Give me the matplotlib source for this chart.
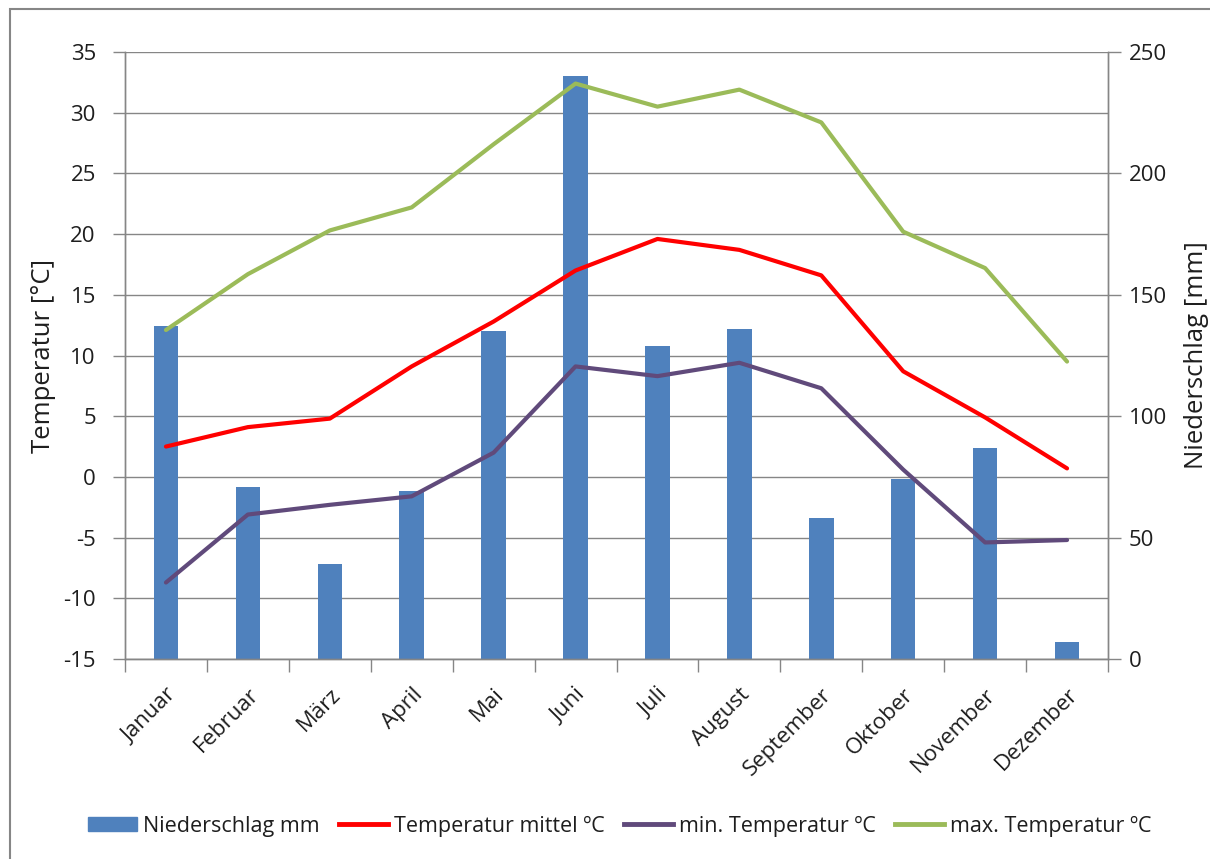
import numpy as np
import matplotlib
matplotlib.use("Agg")
import matplotlib.pyplot as plt
from matplotlib.patches import Rectangle, Patch
from matplotlib.lines import Line2D
from matplotlib.ticker import MultipleLocator

# Klimadaten
monate = ["Januar", "Februar", "März", "April", "Mai", "Juni", "Juli",
          "August", "September", "Oktober", "November", "Dezember"]
niederschlag = [137, 71, 39, 69, 135, 240, 129, 136, 58, 74, 87, 7]
temp_mittel = [2.5, 4.1, 4.8, 9.1, 12.8, 17.0, 19.6, 18.7, 16.6, 8.7, 4.9, 0.7]
temp_min = [-8.7, -3.1, -2.3, -1.6, 2.0, 9.1, 8.3, 9.4, 7.3, 0.6, -5.4, -5.2]
temp_max = [12.1, 16.7, 20.3, 22.2, 27.4, 32.4, 30.5, 31.9, 29.2, 20.2, 17.2, 9.5]

BLAU = "#4F81BD"
ROT = "#FF0000"
LILA = "#604A7B"
GRUEN = "#9BBB59"
GRAU = "#868686"
TEXT = "#1E1E1E"

plt.rcParams['font.family'] = ['Open Sans', 'DejaVu Sans']
plt.rcParams['axes.unicode_minus'] = False

fig = plt.figure(figsize=(12.1, 8.59), dpi=100)
ax = fig.add_axes([125/1210, 1-659/859, (1108-125)/1210, (659-52)/859])
ax2 = ax.twinx()
ax.set_zorder(2)
ax.patch.set_visible(False)

x = np.arange(len(monate))

# Niederschlag (rechte Achse) hinter den Linien
ax2.bar(x, niederschlag, width=0.3, color=BLAU, zorder=2)
ax2.set_ylim(0, 250)
ax2.yaxis.set_major_locator(MultipleLocator(50))
ax2.yaxis.set_minor_locator(MultipleLocator(25))
ax2.grid(which='both', axis='y', color=GRAU, linewidth=1, zorder=0)
ax2.set_axisbelow(True)
ax2.tick_params(axis='y', which='major', length=9, width=1, color=GRAU,
                labelsize=16, labelcolor=TEXT, pad=6)
ax2.tick_params(axis='y', which='minor', length=0)
ax2.set_ylabel("Niederschlag [mm]", fontsize=18.5, labelpad=12, color=TEXT)

# Temperaturen (linke Achse)
ax.plot(x, temp_mittel, color=ROT, lw=3, solid_capstyle='round')
ax.plot(x, temp_min, color=LILA, lw=3, solid_capstyle='round')
ax.plot(x, temp_max, color=GRUEN, lw=3, solid_capstyle='round')
ax.set_ylim(-15, 35)
ax.set_xlim(-0.5, 11.5)
ax.yaxis.set_major_locator(MultipleLocator(5))
ax.tick_params(axis='y', length=9, width=1, color=GRAU, labelsize=16,
               labelcolor=TEXT, pad=12)
ax.set_ylabel("Temperatur [°C]", fontsize=18.5, labelpad=5, color=TEXT)

# Kategorieachse mit Teilstrichen zwischen den Monaten
ax.set_xticks(np.arange(-0.5, 12, 1))
ax.set_xticklabels([])
ax.set_xticks(x, minor=True)
ax.set_xticklabels(monate, minor=True, rotation=45, ha='right',
                   rotation_mode='anchor', fontsize=16, color=TEXT)
ax.tick_params(axis='x', which='major', length=9, width=1, color=GRAU)
ax.tick_params(axis='x', which='minor', length=0, pad=18)
ax2.tick_params(axis='x', which='both', length=0, labelbottom=False)

for a in (ax, ax2):
    a.spines['top'].set_visible(False)
    for s in ('left', 'right', 'bottom'):
        a.spines[s].set_color(GRAU)
        a.spines[s].set_linewidth(1)

# Legende
handles = [
    Patch(color=BLAU, label="Niederschlag mm"),
    Line2D([], [], color=ROT, lw=3.5, label="Temperatur mittel ºC"),
    Line2D([], [], color=LILA, lw=3.5, label="min. Temperatur ºC"),
    Line2D([], [], color=GRUEN, lw=3.5, label="max. Temperatur ºC"),
]
fig.legend(handles=handles, loc='center', bbox_to_anchor=(0.512, 1-826/859),
           ncol=4, frameon=False, fontsize=15.5, handlelength=2.3,
           handleheight=0.65, handletextpad=0.25, columnspacing=0.9,
           labelcolor=TEXT)

# Rahmen um das Diagramm
fig.add_artist(Rectangle((10/1210, -0.05), 1.2, 1.05-9/859,
                         transform=fig.transFigure, fill=False,
                         edgecolor=GRAU, linewidth=1.5))

fig.savefig("out.png", dpi=100)
